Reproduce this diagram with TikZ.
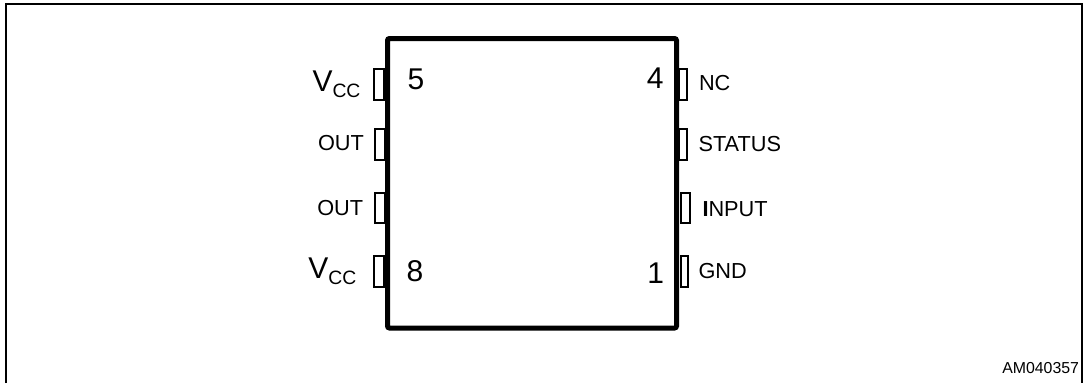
\documentclass[tikz,border=0pt]{standalone}
\usepackage{fontspec}
\setmainfont{Liberation Sans}
\newcommand{\subcc}{\raisebox{-4.5pt}{\fontsize{14.5pt}{15pt}\selectfont CC}}
\tikzset{
  x=0.75pt,y=-0.75pt,
  frameline/.style={line width=1.6pt,line cap=butt},
  bodybox/.style={draw,line width=3.75pt,rounded corners=1.5pt,outer sep=0pt,inner sep=0pt,minimum width=289*0.75pt,minimum height=289.5*0.75pt,anchor=north west},
  pinbox/.style={draw,fill=white,line width=1.5pt,outer sep=0pt,inner sep=0pt,minimum height=30.5*0.75pt},
  pinlab/.style={inner sep=0pt,outer sep=0pt,font=\fontsize{16.3pt}{17pt}\selectfont},
  numlab/.style={inner sep=0pt,outer sep=0pt,font=\fontsize{22.5pt}{24pt}\selectfont},
  codelab/.style={inner sep=0pt,outer sep=0pt,font=\fontsize{11.9pt}{12pt}\selectfont},
}
\begin{document}
\begin{tikzpicture}
\useasboundingbox (0,0) rectangle (1086,383);
\coordinate (fa) at (6,383);
\coordinate (fb) at (6,4);
\coordinate (fc) at (1081.7,4);
\coordinate (fd) at (1081.7,383);
\draw[frameline] (fa) -- (fb) -- (fc) -- (fd);
% pins left
\node[pinbox,minimum width=10*0.75pt] (p5) at (379,84.7) {};
\node[pinbox,minimum width=10*0.75pt] (p6) at (380,144.7) {};
\node[pinbox,minimum width=10*0.75pt] (p7) at (380,208) {};
\node[pinbox,minimum width=10*0.75pt] (p8) at (379,271.3) {};
% pins right
\node[pinbox,minimum width=7.5*0.75pt] (p4) at (683,84.7) {};
\node[pinbox,minimum width=7.5*0.75pt] (p3) at (683,144.7) {};
\node[pinbox,minimum width=9*0.75pt] (p2) at (685,208) {};
\node[pinbox,minimum width=7.5*0.75pt] (p1) at (684.5,271.3) {};
% body
\node[bodybox] (body) at (387.5,38.5) {};
% left labels
\node[numlab,anchor=base west] (lv1) at (312.5,91.7) {V\subcc};
\node[pinlab,anchor=base west] (lo1) at (318,150.5) {OUT};
\node[pinlab,anchor=base west] (lo2) at (317.3,215.7) {OUT};
\node[numlab,anchor=base west] (lv2) at (308.3,278.3) {V\subcc};
% numbers
\node[numlab,anchor=base west] (n5) at (407.5,89.3) {5};
\node[numlab,anchor=base west] (n8) at (406.5,281) {8};
\node[numlab,anchor=base east] (n4) at (663.5,88.3) {4};
\node[numlab,anchor=base east] (n1) at (664,283.3) {1};
% right labels
\node[pinlab,anchor=base west] (ln) at (699,90) {NC};
\node[pinlab,anchor=base west] (ls) at (698.5,151) {STATUS};
\node[pinlab,anchor=base west] (li) at (702.5,216.7) {\textbf{I}NPUT};
\node[pinlab,anchor=base west] (lg) at (698.5,278.3) {GND};
\node[codelab,anchor=base east] (code) at (1079,373) {AM040357};
\end{tikzpicture}
\end{document}
